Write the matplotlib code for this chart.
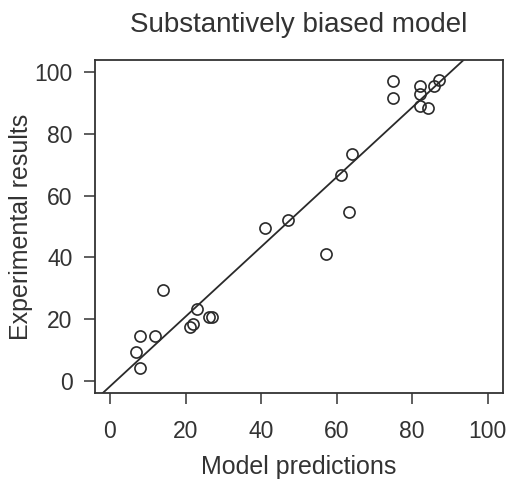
import matplotlib.pyplot as plt

plt.rcParams['font.family'] = ['Liberation Sans', 'DejaVu Sans']

# Model predictions vs. experimental results
model_pred = [8.0, 6.9, 8.0, 12.0, 14.0, 23.0, 21.1, 22.1, 26.2, 27.1,
              41.0, 47.2, 57.2, 61.1, 63.2, 64.1, 75.0, 75.0, 82.0, 82.0,
              82.0, 84.3, 85.8, 87.0]
exp_result = [14.4, 9.2, 4.1, 14.4, 29.4, 23.4, 17.6, 18.3, 20.7, 20.7,
              49.4, 52.1, 41.2, 66.7, 54.7, 73.4, 97.3, 91.5, 95.6, 92.9,
              89.0, 88.4, 95.6, 97.6]

# fitted line
fit_intercept = -1.8
fit_slope = 1.13

ticks = [0, 20, 40, 60, 80, 100]

fig = plt.figure(figsize=(5.10, 4.83), dpi=100)
ax = fig.add_axes([0.186, 0.186, 0.800, 0.690])

ax.plot(model_pred, exp_result, linestyle='none', marker='o', markersize=8,
        markerfacecolor='none', markeredgecolor='#2a2a2a', markeredgewidth=1.2)
ax.axline((0, fit_intercept), slope=fit_slope, color='#2a2a2a', linewidth=1.3)

ax.set_xlim(-4, 104)
ax.set_ylim(-4, 104)
ax.set_xticks(ticks)
ax.set_yticks(ticks)
ax.tick_params(direction='out', length=8, width=1.1, color='#333333',
               labelsize=16.5, labelcolor='#333333')
ax.tick_params(axis='x', pad=11)
ax.tick_params(axis='y', pad=8)
for s in ax.spines.values():
    s.set_linewidth(1.3)
    s.set_color('#333333')

ax.set_xlabel('Model predictions', fontsize=18, color='#333333', labelpad=9)
ax.set_ylabel('Experimental results', fontsize=18, color='#333333', labelpad=1)
ax.set_title('Substantively biased model', fontsize=20, color='#333333', pad=20)

fig.savefig('out.png', dpi=100)
